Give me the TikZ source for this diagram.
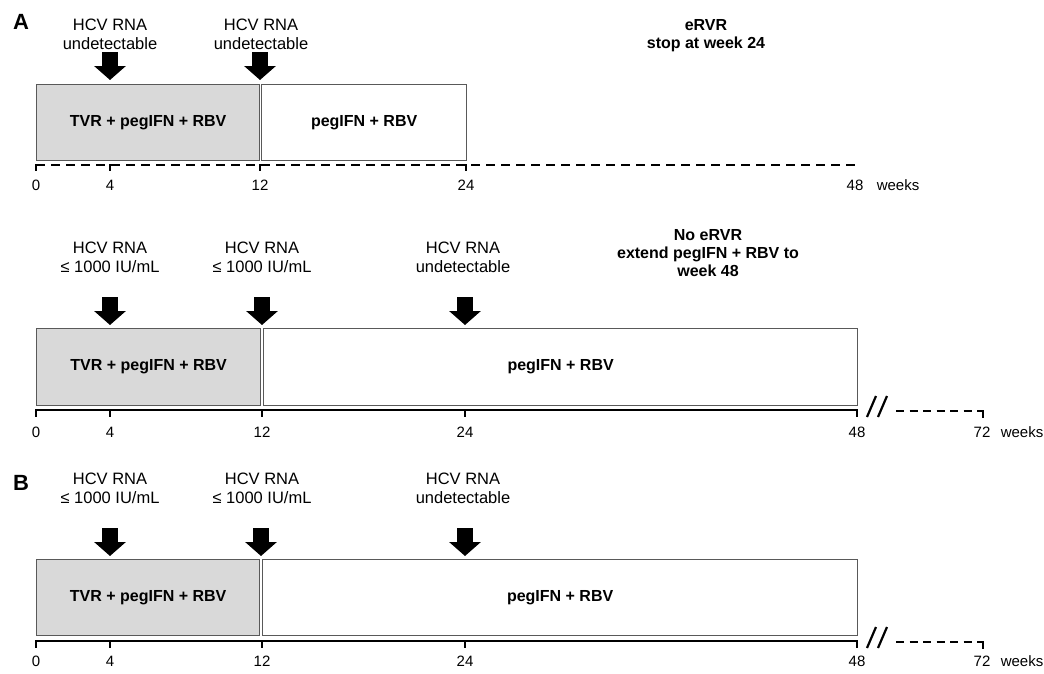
\documentclass[tikz,border=0pt]{standalone}
\usepackage{fontspec}
\setmainfont{Liberation Sans}
\usetikzlibrary{arrows.meta}
\definecolor{boxgray}{HTML}{595959}
\definecolor{fillgray}{HTML}{D9D9D9}
\begin{document}
\begin{tikzpicture}[x=1pt,y=-1pt,
  lbl/.style={font=\fontsize{16.5}{19}\selectfont, align=center, inner sep=0pt},
  blbl/.style={font=\bfseries\fontsize{16}{18}\selectfont, align=center, inner sep=0pt},
  num/.style={font=\fontsize{15}{16}\selectfont, inner sep=0pt},
  panel/.style={font=\bfseries\fontsize{22}{24}\selectfont, inner sep=0pt},
  greybox/.style={draw=boxgray, fill=fillgray, line width=1.3pt, anchor=north west, inner sep=0pt, font=\bfseries\fontsize{16}{18}\selectfont},
  whitebox/.style={draw=boxgray, fill=white, line width=1.3pt, anchor=north west, inner sep=0pt, font=\bfseries\fontsize{16}{18}\selectfont},
  bigarrow/.style={line width=16pt, -{Triangle[width=31pt,length=14pt]}},
  dashaxis/.style={line width=2pt, dash pattern=on 9pt off 6pt},
  solidaxis/.style={line width=2pt},
  tickline/.style={line width=1.5pt},
  breakmark/.style={line width=2.2pt}
]
\useasboundingbox (0,0) rectangle (1044,673);

% ---------------- Panel A, first timeline ----------------
\node[panel] (pA) at (21,22) {A};
\node[lbl] (a1l) at (110,34) {HCV RNA\\undetectable};
\node[lbl] (a2l) at (261,34) {HCV RNA\\undetectable};
\node[blbl] (aRes) at (706,36) {eRVR\\stop at week 24};
\node[greybox, minimum width=223pt, minimum height=76pt] (aB1) at (36,84) {TVR + pegIFN + RBV};
\node[whitebox, minimum width=205pt, minimum height=76pt] (aB2) at (261,84) {pegIFN + RBV};
\coordinate (aA1s) at (110,52); \coordinate (aA1e) at (110,80);
\coordinate (aA2s) at (260,52); \coordinate (aA2e) at (260,80);
\draw[bigarrow] (aA1s) -- (aA1e);
\draw[bigarrow] (aA2s) -- (aA2e);
\coordinate (aX0) at (36,165); \coordinate (aX48) at (858,165);
\draw[dashaxis] (aX0) -- (aX48);
\foreach \x/\n in {36/0,110/4,260/12,466/24}{
  \draw[tickline] (\x,164) -- (\x,171);
  \node[num] (aN\n) at (\x,185) {\n};
}
\node[num] (aN48) at (855,185) {48};
\node[num] (aW) at (898,185) {weeks};

% ---------------- Panel A, second timeline ----------------
\node[lbl] (b1l) at (110,257) {HCV RNA\\≤ 1000 IU/mL};
\node[lbl] (b2l) at (262,257) {HCV RNA\\≤ 1000 IU/mL};
\node[lbl] (b3l) at (463,257) {HCV RNA\\undetectable};
\node[blbl] (bRes) at (708,253) {No eRVR\\extend pegIFN + RBV to\\week 48};
\node[greybox, minimum width=224pt, minimum height=77pt] (bB1) at (36,328) {TVR + pegIFN + RBV};
\node[whitebox, minimum width=594pt, minimum height=77pt] (bB2) at (263,328) {pegIFN + RBV};
\foreach \x/\n in {110/1,262/2,465/3}{
  \coordinate (bA\n s) at (\x,297); \coordinate (bA\n e) at (\x,325);
  \draw[bigarrow] (bA\n s) -- (bA\n e);
}
\coordinate (bX0) at (36,410); \coordinate (bX48) at (857,410);
\draw[solidaxis] (bX0) -- (bX48);
\foreach \x/\n in {36/0,110/4,262/12,465/24,857/48}{
  \draw[tickline] (\x,409) -- (\x,417);
  \node[num] (bN\n) at (\x,432) {\n};
}
\draw[breakmark] (867,417) -- (876,396);
\draw[breakmark] (878,417) -- (887,396);
\coordinate (bD0) at (896,411); \coordinate (bD72) at (983,411);
\draw[dashaxis, dash pattern=on 8pt off 5.5pt] (bD0) -- (bD72);
\draw[tickline] (983,410) -- (983,418);
\node[num] (bN72) at (982,432) {72};
\node[num] (bW) at (1022,432) {weeks};

% ---------------- Panel B ----------------
\node[panel] (pB) at (21,483) {B};
\node[lbl] (c1l) at (110,488) {HCV RNA\\≤ 1000 IU/mL};
\node[lbl] (c2l) at (262,488) {HCV RNA\\≤ 1000 IU/mL};
\node[lbl] (c3l) at (463,488) {HCV RNA\\undetectable};
\node[greybox, minimum width=223pt, minimum height=76pt] (cB1) at (36,559) {TVR + pegIFN + RBV};
\node[whitebox, minimum width=595pt, minimum height=76pt] (cB2) at (262,559) {pegIFN + RBV};
\foreach \x/\n in {110/1,261/2,465/3}{
  \coordinate (cA\n s) at (\x,528); \coordinate (cA\n e) at (\x,556);
  \draw[bigarrow] (cA\n s) -- (cA\n e);
}
\coordinate (cX0) at (36,641); \coordinate (cX48) at (857,641);
\draw[solidaxis] (cX0) -- (cX48);
\foreach \x/\n in {36/0,110/4,262/12,465/24,857/48}{
  \draw[tickline] (\x,640) -- (\x,648);
  \node[num] (cN\n) at (\x,661) {\n};
}
\draw[breakmark] (867,648) -- (876,627);
\draw[breakmark] (878,648) -- (887,627);
\coordinate (cD0) at (896,642); \coordinate (cD72) at (983,642);
\draw[dashaxis, dash pattern=on 8pt off 5.5pt] (cD0) -- (cD72);
\draw[tickline] (983,641) -- (983,649);
\node[num] (cN72) at (982,661) {72};
\node[num] (cW) at (1022,661) {weeks};
\end{tikzpicture}
\end{document}
